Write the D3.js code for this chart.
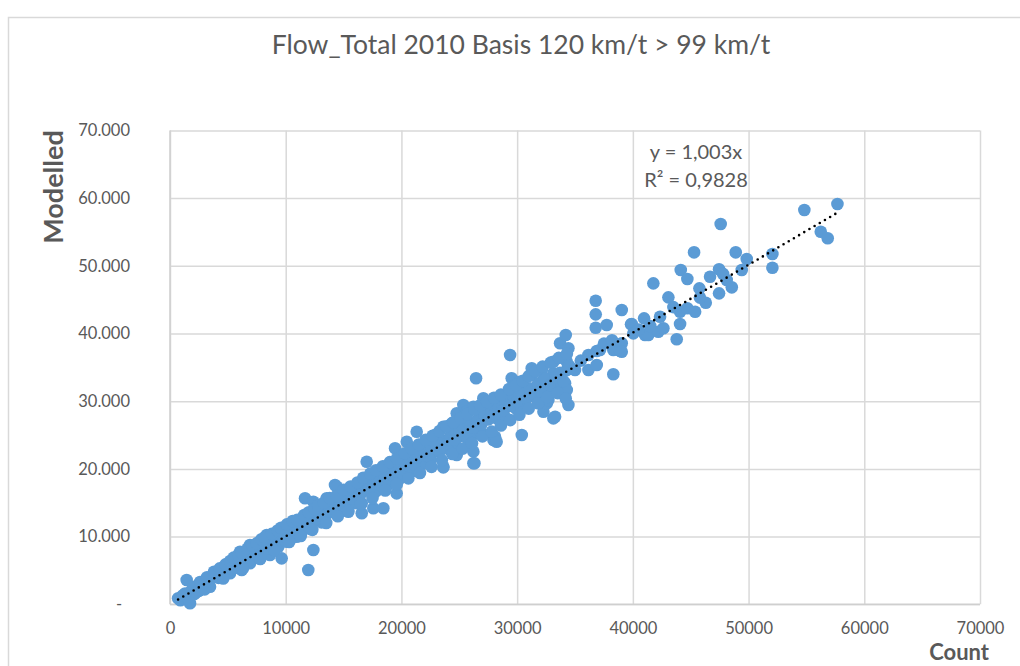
<!DOCTYPE html>
<html>
<head>
<meta charset="utf-8">
<script src="https://cdn.jsdelivr.net/npm/d3@7"></script>
<style>
  body { margin: 0; background: #fff; }
  text { font-family: Lato, "Open Sans", sans-serif; fill: #595959; }
</style>
</head>
<body>
<svg id="chart" width="1020" height="666"></svg>
<script>
// Data
var titleText = "Flow_Total 2010 Basis 120 km/t > 99 km/t";
var xLabel = "Count";
var yLabel = "Modelled";
var equationLines = ["y = 1,003x", "R\u00b2 = 0,9828"];
var trendSlope = 1.003;
var xTicks = [0, 10000, 20000, 30000, 40000, 50000, 60000, 70000];
var yTicks = [0, 10000, 20000, 30000, 40000, 50000, 60000, 70000];

// [count, modelled]
var points = [
  [700, 900], [900, 600], [1100, 1300], [1440, 3590], [1500, 1100], [1730, 150], [1800, 1900],
  [2100, 1500], [2450, 2360], [2500, 2000], [2700, 3100], [2880, 3340], [3100, 3500], [3300, 2700],
  [3460, 2600], [3700, 4200], [3890, 4580], [4100, 4700], [4200, 3900], [4470, 5070], [4700, 4300],
  [4900, 5400], [5100, 4700], [5190, 4580], [5330, 5800], [5600, 6100], [5800, 5400], [6050, 7770],
  [6100, 6200], [6200, 5070], [6300, 7500], [6400, 5900], [6600, 6800], [6910, 8760], [6910, 6060],
  [7100, 6600], [7200, 8400], [7400, 7700], [7600, 7100], [7780, 9250], [7780, 6790], [8100, 7600],
  [8360, 10240], [8640, 7280], [8700, 9700], [8900, 9100], [9100, 8500], [9220, 10490], [9360, 8510],
  [9650, 6790], [9700, 10600], [9900, 10000], [10090, 9250], [10230, 11230], [10400, 10400],
  [10600, 9900], [10950, 9980], [11100, 10300], [11240, 11710], [11400, 11400], [11670, 15660],
  [11800, 12600], [11950, 5070], [12100, 11200], [12390, 15150], [12390, 8020], [12400, 12300],
  [12700, 13600], [12960, 12450], [13100, 12100], [13200, 14000], [13540, 13930], [13540, 15660],
  [13700, 14600], [13900, 13700], [14120, 14410], [14260, 17620], [14410, 17370], [14600, 13600],
  [14800, 15500], [14980, 15150], [15100, 14100], [15410, 13680], [15500, 15200], [15840, 16140],
  [16000, 15800], [16140, 14920], [16400, 17000], [16570, 13440], [16570, 14920], [16710, 16880],
  [17000, 21060], [17100, 16900], [17290, 17620], [17400, 18200], [17570, 14180], [17800, 16700],
  [17870, 18360], [18100, 17900], [18300, 18850], [18440, 14180], [18600, 18300], [18730, 18850],
  [18800, 17600], [19000, 19600], [19160, 20570], [19400, 18100], [19450, 23040], [19450, 19840],
  [19590, 16390], [19900, 18600], [20160, 20830], [20200, 19900], [20460, 24010], [20600, 21300],
  [20740, 21800], [21000, 19700], [21320, 25490], [21460, 19840], [21610, 22550], [21750, 23280],
  [22000, 20800], [22190, 23780], [22470, 21560], [22500, 21300], [22900, 25010], [22900, 22700],
  [23050, 23280], [23190, 22550], [23400, 23200], [23620, 26230], [23620, 20320], [23620, 20230],
  [23910, 23280], [24100, 22900], [24350, 26730], [24490, 24520], [24700, 23400], [24780, 28210],
  [24780, 22050], [24780, 25240], [25000, 24800], [25350, 25490], [25350, 29440], [25500, 25400],
  [25640, 28450], [25700, 24500], [26000, 25900], [26220, 22550], [26220, 20830], [26220, 29190],
  [26310, 20830], [26450, 33380], [26510, 25240], [26510, 26230], [26790, 26730], [26800, 25600],
  [27080, 30430], [27080, 28210], [27370, 28210], [27600, 27600], [27660, 29690], [27950, 24270],
  [27950, 28450], [28090, 29930], [28090, 24750], [28230, 27470], [28230, 24010], [28500, 29600],
  [28810, 30170], [28900, 27800], [29200, 29200], [29390, 36820], [29530, 33380], [29820, 32390],
  [29820, 29930], [29900, 28900], [30250, 32880], [30400, 25010], [30540, 31650], [30600, 29400],
  [30970, 30660], [31260, 34860], [31260, 33870], [31400, 31400], [31690, 30660], [32130, 34610],
  [32270, 33130], [32270, 28450], [32560, 31650], [32560, 29690], [32700, 30170], [33130, 35830],
  [33130, 34120], [33130, 27470], [33280, 27710], [33560, 32390], [33710, 38550], [34140, 32640],
  [34200, 39780], [34290, 35830], [34290, 34610], [34290, 31650], [34430, 37810], [34430, 29440],
  [36160, 36820], [36160, 34610], [36790, 44840], [36790, 42830], [36790, 40850], [36880, 37410],
  [36880, 35340], [37160, 37560], [37740, 41250], [38310, 37560], [38310, 33970], [38890, 37460],
  [39040, 43470], [39040, 38550], [39040, 37310], [39840, 41350], [39900, 41400], [40040, 40020],
  [40970, 42240], [41050, 39780], [41340, 39780], [41770, 47410], [42200, 40260], [42350, 42480],
  [42640, 40770], [43070, 45340], [43790, 39140], [44080, 43220], [44080, 41400], [44140, 49380],
  [44710, 48050], [44710, 43720], [45290, 51990], [45380, 43220], [45750, 46670], [46300, 44550],
  [46670, 48390], [47450, 49480], [47450, 45930], [47590, 56170], [48110, 47900], [48550, 46820],
  [48890, 51990], [49410, 49380], [49840, 51000], [52060, 51740], [52060, 49720], [54820, 58240],
  [56240, 55030], [56840, 54060], [57680, 59130],
  // dense band
  [1300, 1600], [2000, 2600], [2300, 1800], [3000, 2900], [3500, 3900], [4000, 4100], [4400, 4500],
  [5000, 5300], [5400, 5200], [5700, 6600], [6000, 6400], [6500, 7100], [6800, 6500], [7000, 7600],
  [7300, 7300], [7700, 8100], [8000, 8600], [8300, 8200], [8600, 9000], [9000, 9500], [9400, 9300],
  [9800, 9600], [10200, 10700], [10500, 11100], [10800, 10700], [11200, 11700], [11500, 11000],
  [11900, 11800], [12200, 12700], [12600, 12600], [12900, 13200], [13300, 12900], [13600, 13400],
  [14000, 14200], [14300, 14900], [14700, 14500], [15000, 15400], [15300, 16300], [15700, 15600],
  [16000, 16600], [16300, 15900], [16600, 16500], [16900, 17500], [17200, 17000], [17600, 17800],
  [17900, 18300], [18200, 17600], [18500, 19100], [18800, 18700], [19200, 19100], [19500, 19700],
  [19800, 20300], [20000, 19500], [20400, 20600], [20800, 21100], [21100, 20600], [21400, 21700],
  [21700, 22000], [22000, 22600], [22300, 21900], [22600, 23000], [23000, 23600], [23300, 22600],
  [23700, 24200], [24000, 23800], [24300, 25000], [24600, 24300], [25000, 25600], [25300, 26300],
  [25600, 24900], [25900, 26700], [26200, 26100], [26600, 27300], [26900, 26600], [27200, 27900],
  [27500, 27300], [27800, 28700], [28100, 28100], [28400, 29000], [28700, 28600], [29000, 30300],
  [29400, 29400], [29700, 30800], [30000, 30000], [30400, 31100], [30800, 30400], [31100, 31900],
  [31500, 31000], [31800, 32600], [32000, 31500], [32400, 33300], [32800, 32300], [33300, 33500],
  [33700, 34200], [34000, 33000], [34500, 35200], [35000, 34600], [35500, 36000], [37500, 38500],
  [38200, 39000], [40500, 40600], [41500, 41100], [43500, 43900], [45800, 45300], [47800, 48800],
  // upper edge of band
  [2600, 3300], [3200, 4000], [3800, 4800], [4300, 5300], [4800, 5900], [5200, 6400], [5500, 6900],
  [5900, 7300], [6200, 7600], [6700, 8200], [7100, 8700], [7500, 9000], [7900, 9600], [8200, 9900],
  [8800, 10400], [9300, 10900], [9600, 11300], [10100, 11800], [10600, 12300], [11000, 12500],
  [11600, 13200], [12000, 13600], [12500, 14100], [12800, 14600], [13300, 15000], [13800, 15700],
  [14400, 16000], [15000, 16900], [15600, 17400], [16200, 18000], [16700, 18700], [17300, 19300],
  [17800, 19800], [18400, 20400], [19000, 21000], [19600, 21500], [20300, 22300], [20900, 23000],
  [21500, 23600], [22100, 24300], [22700, 24900], [23300, 25600], [23900, 26300], [24500, 26900],
  [25100, 27500], [25700, 28100], [26300, 28800], [26800, 29400], [27400, 29900], [28000, 30500],
  [28600, 31000], [29300, 31800], [29900, 32400], [30500, 33000], [31000, 33700], [31600, 34400],
  [32200, 35100], [32900, 35700], [33600, 36400], [34300, 37000],
  // lower edge of band
  [3000, 2200], [4600, 3800], [6300, 5300], [7800, 6700], [9000, 8000], [10300, 9200], [11300, 10100],
  [12300, 11000], [13500, 12000], [14500, 13000], [15400, 13800], [16500, 14800], [17500, 15700],
  [18600, 16800], [19600, 17700], [20600, 18600], [21600, 19400], [22600, 20300], [23500, 21300],
  [24400, 22200], [25300, 23000], [26100, 23800], [27000, 24800], [27800, 25500], [28600, 26400],
  [29400, 27200], [30200, 28000], [31000, 28900], [31800, 29700], [32600, 30600], [33500, 31200],
  [34200, 30400]
];

// Layout
var svg = d3.select("#chart");
var margin = {top: 130.4, right: 40, bottom: 61.7, left: 170};
var width = 1020 - margin.left - margin.right;
var height = 666 - margin.top - margin.bottom;

// chart area border
svg.append("rect")
  .attr("x", 8.5).attr("y", 17.5)
  .attr("width", 1040).attr("height", 700)
  .attr("fill", "none").attr("stroke", "#d9d9d9").attr("stroke-width", 1.5);

var g = svg.append("g")
  .attr("transform", "translate(" + margin.left + "," + margin.top + ")");

var x = d3.scaleLinear().domain([0, 70000]).range([0, width]);
var y = d3.scaleLinear().domain([0, 70000]).range([height, 0]);

var locale = d3.formatLocale({decimal: ",", thousands: ".", grouping: [3], currency: ["", ""]});
var yFmt = locale.format(",");

// gridlines + axes
var xAxis = d3.axisBottom(x).tickValues(xTicks).tickSizeInner(-height).tickSizeOuter(0)
  .tickPadding(18).tickFormat(function(d) { return String(d); });
var yAxis = d3.axisLeft(y).tickValues(yTicks).tickSizeInner(-width).tickSizeOuter(0)
  .tickPadding(40).tickFormat(function(d) { return d === 0 ? "-" : yFmt(d); });

var gx = g.append("g")
  .attr("transform", "translate(0," + height + ")")
  .call(xAxis);
var gy = g.append("g").call(yAxis);

[gx, gy].forEach(function(a) {
  a.select(".domain").remove();
  a.selectAll(".tick line").attr("stroke", "#d9d9d9").attr("stroke-width", 1.5);
  a.selectAll(".tick text").attr("fill", "#595959")
    .style("font-family", "Lato, sans-serif").style("font-size", "16.5px");
});
gy.selectAll(".tick text").attr("x", -40).attr("text-anchor", "end");
gy.selectAll(".tick text").filter(function(d) { return d === 0; })
  .attr("x", -51).attr("text-anchor", "middle");

// axis lines
g.append("line").attr("x1", 0).attr("x2", 0).attr("y1", 0).attr("y2", height)
  .attr("stroke", "#cfcfcf").attr("stroke-width", 1.5);
g.append("line").attr("x1", 0).attr("x2", width).attr("y1", height).attr("y2", height)
  .attr("stroke", "#cfcfcf").attr("stroke-width", 1.5);

// points
g.append("g").selectAll("circle")
  .data(points)
  .enter()
  .append("circle")
  .attr("cx", function(d) { return x(d[0]); })
  .attr("cy", function(d) { return y(d[1]); })
  .attr("r", 6.3)
  .attr("fill", "#5b9bd5");

// trendline
var ext = d3.extent(points, function(d) { return d[0]; });
var trend = ext.map(function(c) { return [c, c * trendSlope]; });
g.append("path")
  .datum(trend)
  .attr("d", d3.line().x(function(d) { return x(d[0]); }).y(function(d) { return y(d[1]); }))
  .attr("fill", "none")
  .attr("stroke", "#000")
  .attr("stroke-width", 2.6)
  .attr("stroke-linecap", "round")
  .attr("stroke-dasharray", "0 6");

// equation
svg.append("text")
  .attr("x", 696).attr("y", 159)
  .attr("text-anchor", "middle")
  .style("font-size", "20px")
  .text(equationLines[0]);
svg.append("text")
  .attr("x", 696).attr("y", 187)
  .attr("text-anchor", "middle")
  .style("font-size", "20px")
  .text(equationLines[1]);

// title
svg.append("text")
  .attr("x", 521).attr("y", 54)
  .attr("text-anchor", "middle")
  .style("font-size", "26.5px")
  .text(titleText);

// axis titles
svg.append("text")
  .attr("transform", "translate(63,187) rotate(-90)")
  .attr("text-anchor", "middle")
  .style("font-size", "27px")
  .style("font-weight", "bold")
  .text(yLabel);

svg.append("text")
  .attr("x", 989).attr("y", 660)
  .attr("text-anchor", "end")
  .style("font-size", "22px")
  .style("font-weight", "bold")
  .text(xLabel);
</script>
</body>
</html>
